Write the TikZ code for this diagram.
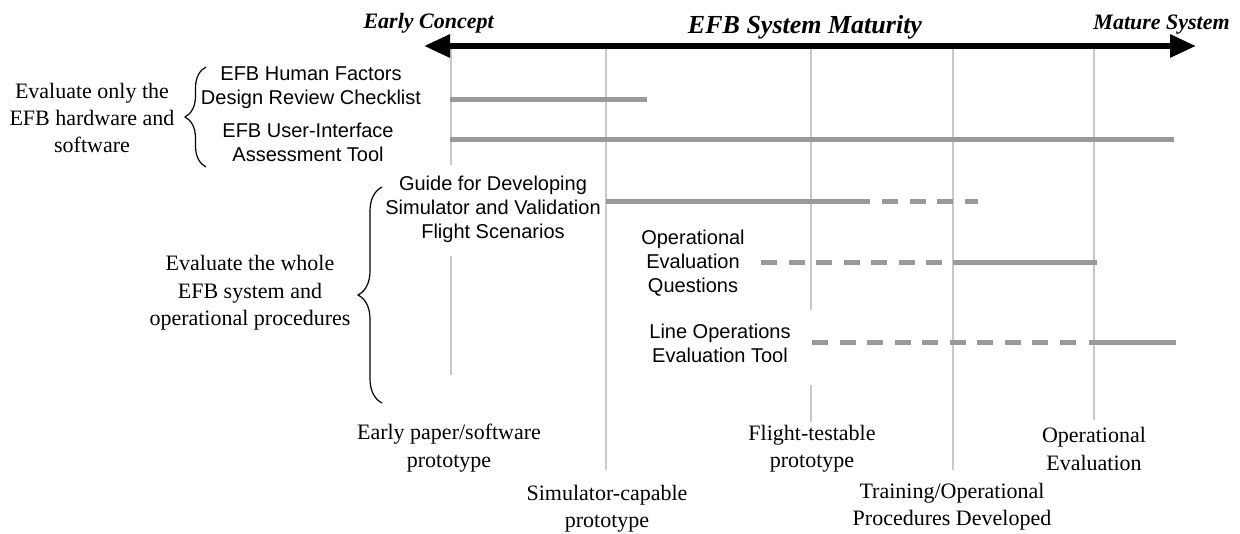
\documentclass[tikz,border=0pt]{standalone}
\usepackage{fontspec}
\setmainfont{Liberation Serif}
\setsansfont{Liberation Sans}
\usetikzlibrary{arrows.meta,decorations.pathreplacing}
\definecolor{gridgray}{RGB}{200,200,200}
\definecolor{bargray}{RGB}{153,153,153}
\begin{document}
\begin{tikzpicture}[x=0.75pt,y=-0.75pt,
  gridline/.style={draw=gridgray, line width=1.5pt},
  bar/.style={draw=bargray, line width=3.75pt},
  dbar/.style={bar, dash pattern=on 12pt off 8.625pt},
  tool/.style={font=\sffamily\fontsize{15}{18}\selectfont, align=center, inner sep=0pt},
  lab/.style={font=\fontsize{16.5}{20.5}\selectfont, align=center, inner sep=0pt},
  ends/.style={font=\bfseries\itshape\fontsize{16.5}{20}\selectfont, inner sep=0pt},
  brc/.style={decorate, line width=0.9pt}
]
\useasboundingbox (0,0) rectangle (1240,534);
% vertical maturity lines
\draw[gridline] (451,46) -- (451,165);
\draw[gridline] (451,256) -- (451,375);
\draw[gridline] (606,46) -- (606,470);
\draw[gridline] (811,46) -- (811,310);
\draw[gridline] (811,385) -- (811,422);
\draw[gridline] (953,46) -- (953,470);
\draw[gridline] (1094,46) -- (1094,420);
% axis
\coordinate (axL) at (424,46);
\coordinate (axR) at (1196,46);
\draw[line width=4.5pt, {Triangle[length=19.5pt,width=16.5pt]}-{Triangle[length=19.5pt,width=16.5pt]}] (axL) -- (axR);
\node[ends, anchor=base east] (ec) at (494,29) {Early Concept};
\node[ends, anchor=base east] (ms) at (1230,30) {Mature System};
\node[font=\bfseries\itshape\fontsize{19.5}{22}\selectfont, inner sep=0pt, anchor=base] (title) at (805,34) {EFB System Maturity};
% bars
\draw[bar] (450,100) -- (647,100);
\draw[bar] (450,140) -- (1174,140);
\draw[bar] (606,202) -- (870,202);
\draw[dbar] (882,202) -- (978,202);
\draw[dbar] (761,263) -- (943,263);
\draw[bar] (953,263) -- (1097,263);
\draw[dbar] (812,343) -- (1076,343);
\draw[bar] (1089,343) -- (1176,343);
% tools
\node[tool] (hf) at (311,88) {EFB Human Factors\\Design Review Checklist};
\node[tool] (ui) at (308,142) {EFB User-Interface\\Assessment Tool};
\node[tool] (guide) at (493,209) {Guide for Developing\\Simulator and Validation\\Flight Scenarios};
\node[tool] (opq) at (693,263) {Operational\\Evaluation\\Questions};
\node[tool] (lot) at (720,343) {Line Operations\\Evaluation Tool};
% groups
\node[lab] (g1) at (92,118) {Evaluate only the\\EFB hardware and\\software};
\node[lab] (g2) at (250,293) {Evaluate the whole\\EFB system and\\operational procedures};
\draw[brc, decoration={brace, amplitude=15.75pt}] (206,167) -- (206,67);
\draw[brc, decoration={brace, amplitude=18pt}] (382,403) -- (382,187);
% stages
\node[lab] (p1) at (449,448) {Early paper/software\\prototype};
\node[lab] (p2) at (607,509) {Simulator-capable\\prototype};
\node[lab] (p3) at (812,449) {Flight-testable\\prototype};
\node[lab] (p4) at (952,507) {Training/Operational\\Procedures Developed};
\node[lab] (p5) at (1094,449) {Operational\\Evaluation};
\end{tikzpicture}
\end{document}
